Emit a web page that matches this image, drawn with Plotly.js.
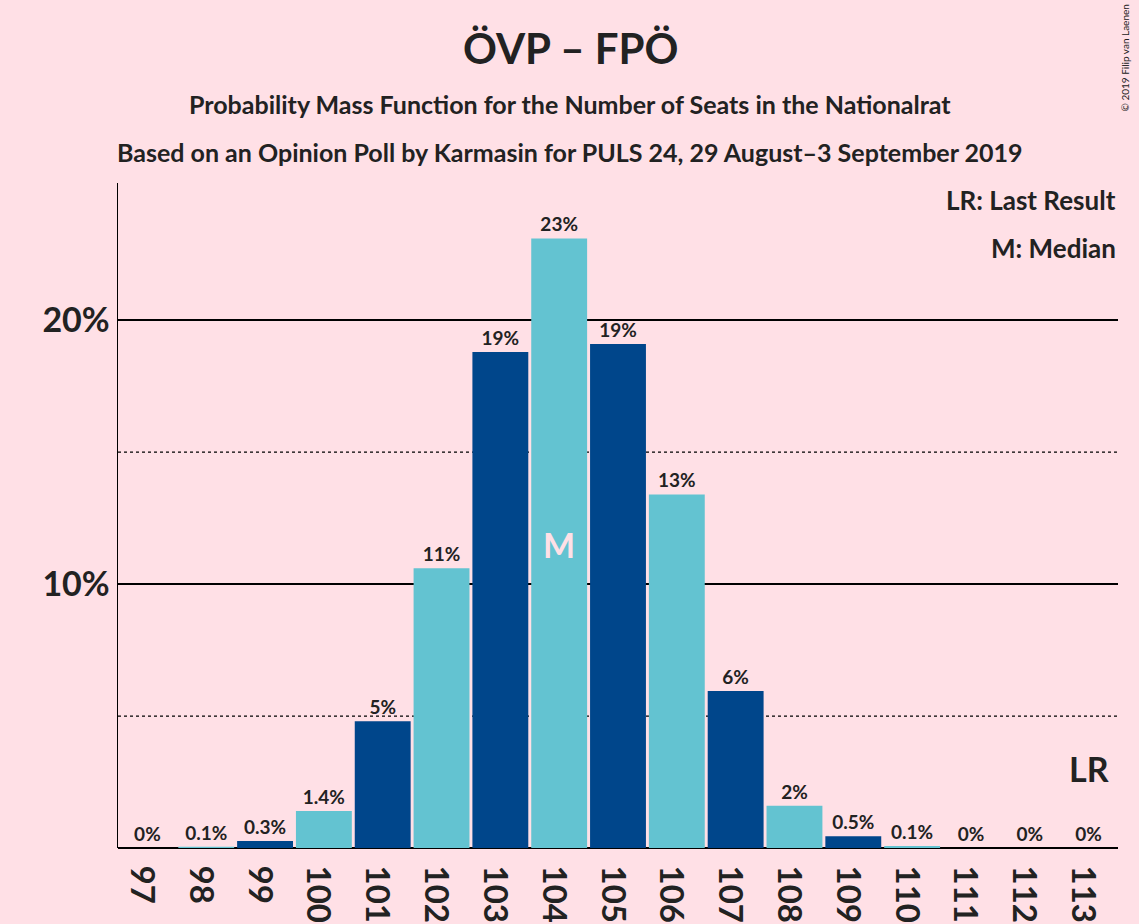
<!DOCTYPE html>
<html><head><meta charset="utf-8"><script src="https://cdn.plot.ly/plotly-3.0.1.min.js"></script>
<style>body{margin:0;background:#FFE0E6}</style></head><body>
<div id="c" style="width:1139px;height:924px"></div>
<script>
const seats=[97,98,99,100,101,102,103,104,105,106,107,108,109,110,111,112,113];
const values=[0,0.05,0.27,1.4,4.8,10.6,18.8,23.1,19.1,13.4,5.95,1.6,0.45,0.08,0,0,0];
const labels=["0%","0.1%","0.3%","1.4%","5%","11%","19%","23%","19%","13%","6%","2%","0.5%","0.1%","0%","0%","0%"];
const medianSeat=104, lastResultSeat=113;
const colors=seats.map(s=>s%2? '#00468B':'#63C3D1');
const F='Lato, "Open Sans", sans-serif';
const shapes=[5,15].map(v=>({type:'line',xref:'paper',x0:0,x1:1,y0:v,y1:v,line:{color:'#000',width:1.2,dash:'dot'},layer:'below'}));
const ann=[
 {text:'<b>ÖVP – FPÖ</b>',xref:'paper',yref:'paper',x:0.452,y:1,yanchor:'middle',yshift:135,showarrow:false,font:{size:42,color:'#222',family:F}},
 {text:'<b>Probability Mass Function for the Number of Seats in the Nationalrat</b>',xref:'paper',yref:'paper',x:0.452,y:1,yanchor:'middle',yshift:79,showarrow:false,font:{size:25,color:'#222',family:F}},
 {text:'<b>Based on an Opinion Poll by Karmasin for PULS 24, 29 August–3 September 2019</b>',xref:'paper',yref:'paper',x:0.452,y:1,yanchor:'middle',yshift:31,showarrow:false,font:{size:25,color:'#222',family:F}},
 {text:'<b>LR: Last Result</b>',xref:'paper',yref:'paper',x:1,y:1,yanchor:'middle',yshift:-17,xanchor:'right',showarrow:false,font:{size:26,color:'#222',family:F}},
 {text:'<b>M: Median</b>',xref:'paper',yref:'paper',x:1,y:1,yanchor:'middle',yshift:-65,xanchor:'right',showarrow:false,font:{size:26,color:'#222',family:F}},
 {text:'<b>M</b>',x:medianSeat,y:11.5,showarrow:false,font:{size:34,color:'#FFE0E6',family:F}},
 {text:'<b>LR</b>',x:lastResultSeat,y:3,showarrow:false,font:{size:34,color:'#222',family:F}},
 {text:'© 2019 Filip van Laenen',xref:'paper',yref:'paper',x:1,xshift:14,y:1,yshift:180,yanchor:'top',textangle:-90,showarrow:false,font:{size:10,color:'#222',family:F}}
];
Plotly.newPlot('c',[{type:'bar',x:seats,y:values,width:0.95,marker:{color:colors},text:labels,textposition:'outside',cliponaxis:false,
 textfont:{size:19,color:'#222',family:F},texttemplate:'<b>%{text}</b>',hoverinfo:'none'}],
{width:1139,height:924,paper_bgcolor:'#FFE0E6',plot_bgcolor:'#FFE0E6',margin:{l:118,r:21,t:183,b:76},showlegend:false,
 xaxis:{range:[96.5,113.5],tickvals:seats,ticks:'',showgrid:false,zeroline:false,showline:false,tickfont:{size:33,color:'#222',family:F},ticktext:seats.map(s=>'<b>'+s+'</b>'),tickmode:'array'},
 yaxis:{range:[0,25.2],tickvals:[10,20],ticktext:['<b>10%</b>','<b>20%</b>'],showgrid:true,gridcolor:'#000',gridwidth:1.5,zeroline:true,zerolinecolor:'#000',zerolinewidth:1.5,showline:true,linecolor:'#000',linewidth:1.5,tickfont:{size:34,color:'#222',family:F}},
 shapes:shapes,annotations:ann},{staticPlot:true});
</script></body></html>
